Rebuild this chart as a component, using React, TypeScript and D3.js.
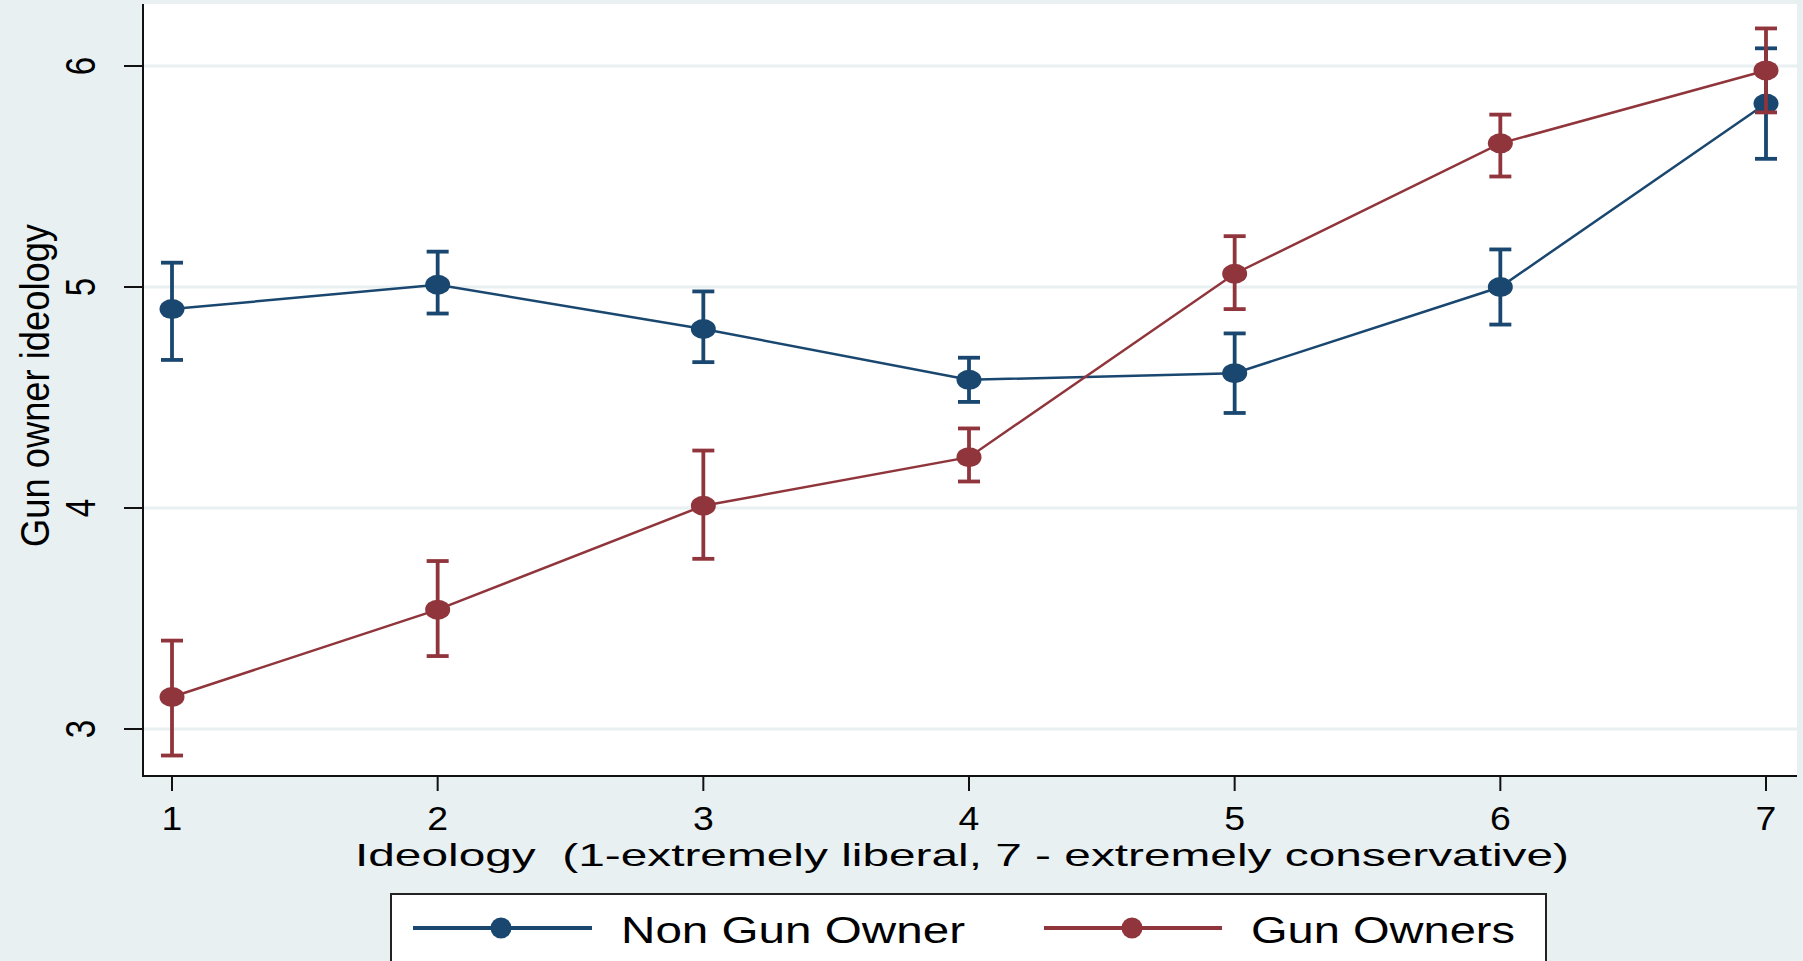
import React from "react";
import * as d3 from "d3";

const ideology = [1, 2, 3, 4, 5, 6, 7];
const nonGunMean = [4.9, 5.01, 4.81, 4.58, 4.61, 5.0, 5.83];
const nonGunLow = [4.67, 4.88, 4.66, 4.48, 4.43, 4.83, 5.58];
const nonGunHigh = [5.11, 5.16, 4.98, 4.68, 4.79, 5.17, 6.08];
const gunMean = [3.145, 3.54, 4.01, 4.23, 5.06, 5.65, 5.98];
const gunLow = [2.88, 3.33, 3.77, 4.12, 4.9, 5.5, 5.79];
const gunHigh = [3.4, 3.76, 4.26, 4.36, 5.23, 5.78, 6.17];
const yTicks = [3, 4, 5, 6];
const xTicks = [1, 2, 3, 4, 5, 6, 7];
const seriesNames = ["Non Gun Owner", "Gun Owners"];
const seriesColors = ["#1a476f", "#90353b"];

const W = 1803;
const H = 961;
const BG = "#e8f0f2";
const FONT = "'Liberation Sans', Arial, sans-serif";

export default function App() {
  const plotL = 143, plotR = 1797, plotT = 4, plotB = 776;
  const x = d3.scaleLinear().domain([1, 7]).range([172, 1766]);
  const y = d3.scaleLinear().domain([3, 6]).range([729, 66]);
  const line = d3.line<number>().x((_, i) => x(ideology[i])).y((d) => y(d));

  const series = [
    { mean: nonGunMean, low: nonGunLow, high: nonGunHigh, color: seriesColors[0] },
    { mean: gunMean, low: gunLow, high: gunHigh, color: seriesColors[1] },
  ];
  const cap = 11;

  return (
    <div style={{ position: "fixed", left: 0, top: 0, width: W, height: H, background: BG }}>
      <svg width={W} height={H} style={{ display: "block" }}>
        <rect x={0} y={0} width={W} height={H} fill={BG} />
        <rect x={plotL} y={plotT} width={plotR - plotL} height={plotB - plotT} fill="#ffffff" />
        {yTicks.map((t) => (
          <line key={"g" + t} x1={plotL} x2={plotR} y1={y(t)} y2={y(t)} stroke={BG} strokeWidth={3} />
        ))}
        {series.map((s, si) => (
          <g key={"s" + si}>
            <path d={line(s.mean) || ""} fill="none" stroke={s.color} strokeWidth={2.5} />
            {ideology.map((v, i) => (
              <g key={i} stroke={s.color} strokeWidth={3.8}>
                <line x1={x(v)} x2={x(v)} y1={y(s.low[i])} y2={y(s.high[i])} />
                <line x1={x(v) - cap} x2={x(v) + cap} y1={y(s.low[i])} y2={y(s.low[i])} />
                <line x1={x(v) - cap} x2={x(v) + cap} y1={y(s.high[i])} y2={y(s.high[i])} />
              </g>
            ))}
            {ideology.map((v, i) => (
              <ellipse key={"m" + i} cx={x(v)} cy={y(s.mean[i])} rx={12.5} ry={10} fill={s.color} />
            ))}
          </g>
        ))}
        {/* axes */}
        <line x1={plotL} x2={plotL} y1={plotT} y2={plotB + 1} stroke="#111" strokeWidth={2} />
        <line x1={plotL - 1} x2={plotR} y1={plotB} y2={plotB} stroke="#111" strokeWidth={2} />
        {yTicks.map((t) => (
          <g key={"yt" + t}>
            <line x1={plotL - 19} x2={plotL} y1={y(t)} y2={y(t)} stroke="#111" strokeWidth={2} />
            <text
              transform={`translate(${95},${y(t)}) scale(1.3,1) rotate(-90)`}
              textAnchor="middle"
              fontFamily={FONT}
              fontSize={33}
              fill="#000"
            >
              {t}
            </text>
          </g>
        ))}
        {xTicks.map((t) => (
          <g key={"xt" + t}>
            <line x1={x(t)} x2={x(t)} y1={plotB} y2={plotB + 15} stroke="#111" strokeWidth={2} />
            <text
              transform={`translate(${x(t)},${830}) scale(1.1,1)`}
              textAnchor="middle"
              fontFamily={FONT}
              fontSize={34}
              fill="#000"
            >
              {t}
            </text>
          </g>
        ))}
        <text
          x={355}
          y={866}
          fontFamily={FONT}
          fontSize={32}
          textLength={1214}
          lengthAdjust="spacingAndGlyphs"
          fill="#000"
          style={{ whiteSpace: "pre" }}
        >
          {"Ideology  (1-extremely liberal, 7 - extremely conservative)"}
        </text>
        <g transform={`translate(${49},${386}) scale(1.15,1) rotate(-90)`}>
          <text
            x={-161}
            y={0}
            fontFamily={FONT}
            fontSize={36}
            textLength={323}
            lengthAdjust="spacingAndGlyphs"
            fill="#000"
          >
            Gun owner ideology
          </text>
        </g>
        {/* legend */}
        <rect x={391} y={894} width={1155} height={70} fill="#fff" stroke="#222" strokeWidth={2} />
        {[
          { x1: 413, x2: 592, mx: 501, tx: 621, tl: 344 },
          { x1: 1044, x2: 1222, mx: 1132, tx: 1251, tl: 264 },
        ].map((l, i) => (
          <g key={"lg" + i}>
            <line x1={l.x1} x2={l.x2} y1={928} y2={928} stroke={seriesColors[i]} strokeWidth={4} />
            <circle cx={l.mx} cy={928} r={10.5} fill={seriesColors[i]} />
            <text
              x={l.tx}
              y={943}
              fontFamily={FONT}
              fontSize={36}
              textLength={l.tl}
              lengthAdjust="spacingAndGlyphs"
              fill="#000"
            >
              {seriesNames[i]}
            </text>
          </g>
        ))}
      </svg>
    </div>
  );
}
